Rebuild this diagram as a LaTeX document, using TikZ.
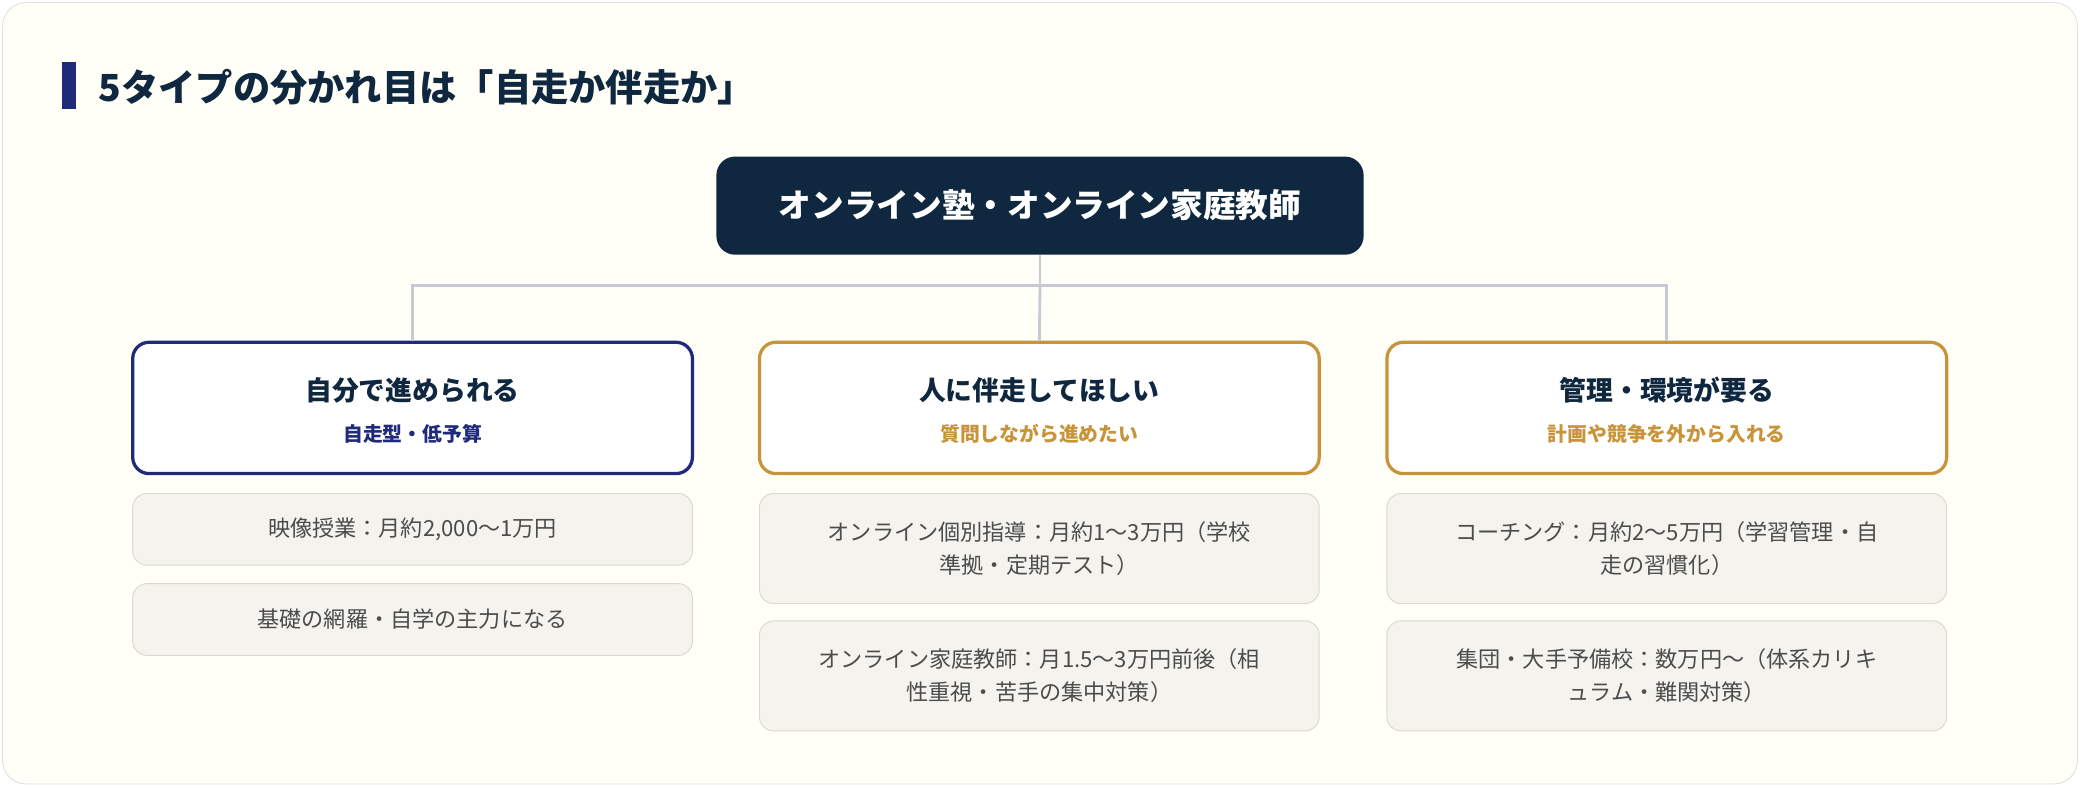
\documentclass[tikz,border=0pt]{standalone}
\usepackage{fontspec}
\setmainfont{Noto Sans CJK JP}
\newfontfamily\jpbold{Noto Sans CJK JP}[FakeBold=0,BoldFont={Noto Sans CJK JP Bold}]
\definecolor{navy}{HTML}{0F2840}
\definecolor{indigo}{HTML}{1F2A7A}
\definecolor{gold}{HTML}{C8943A}
\definecolor{itemfill}{HTML}{F4F3EE}
\definecolor{itemline}{HTML}{DCD9CC}
\definecolor{linkgray}{HTML}{C5CAD3}
\tikzset{
  rootbox/.style={fill=navy,rounded corners=8pt,text=white,font=\fontsize{14pt}{17pt}\selectfont\bfseries},
  typebox/.style={draw=#1,line width=1.4pt,fill=white,rounded corners=7pt,minimum width=8.44cm,minimum height=1.98cm},
  itembox/.style={draw=itemline,fill=itemfill,rounded corners=6pt,minimum width=8.44cm,text=black!70,align=center,font=\fontsize{9.5pt}{14pt}\selectfont},
  link/.style={draw=linkgray,line width=1.2pt}
}
\begin{document}
\begin{tikzpicture}[x=0.02cm,y=-0.02cm]
\useasboundingbox (0,0) rectangle (1568,593);
\draw [draw=black!12,fill=white!97!yellow,rounded corners=10pt] (2,2) rectangle (1566,591);

\fill [indigo] (47,47) rectangle (57,82);
\node (title) [anchor=west,text=navy,font=\fontsize{16pt}{19pt}\selectfont\bfseries] at (68,66) {5タイプの分かれ目は「自走か伴走か」};

\node (root) [rootbox,minimum width=9.76cm,minimum height=1.48cm] at (784,155) {オンライン塾・オンライン家庭教師};

\node (self) [typebox=indigo] at (311,307.5) {};
\node (pace) [typebox=gold] at (783.5,307.5) {};
\node (mgmt) [typebox=gold] at (1256.5,307.5) {};
\node [text=navy,font=\fontsize{11.5pt}{14pt}\selectfont\bfseries] at (311,294) {自分で進められる};
\node [text=indigo,font=\fontsize{8.5pt}{10pt}\selectfont\bfseries] at (311,327) {自走型・低予算};
\node [text=navy,font=\fontsize{11.5pt}{14pt}\selectfont\bfseries] at (783.5,294) {人に伴走してほしい};
\node [text=gold,font=\fontsize{8.5pt}{10pt}\selectfont\bfseries] at (783.5,327) {質問しながら進めたい};
\node [text=navy,font=\fontsize{11.5pt}{14pt}\selectfont\bfseries] at (1256.5,294) {管理・環境が要る};
\node [text=gold,font=\fontsize{8.5pt}{10pt}\selectfont\bfseries] at (1256.5,327) {計画や競争を外から入れる};

\coordinate (bend) at (784,215);
\draw [link] (root.south) -- (bend);
\draw [link] (self.north) |- (bend) -| (mgmt.north);
\draw [link] (bend) -- (pace.north);

\node (video) [itembox,minimum height=1.08cm] at (311,399) {映像授業：月約2,000〜1万円};
\node (basic) [itembox,minimum height=1.08cm] at (311,467) {基礎の網羅・自学の主力になる};
\node (indiv) [itembox,minimum height=1.66cm] at (783.5,413.5) {オンライン個別指導：月約1〜3万円（学校\\準拠・定期テスト）};
\node (tutor) [itembox,minimum height=1.66cm] at (783.5,509.5) {オンライン家庭教師：月1.5〜3万円前後（相\\性重視・苦手の集中対策）};
\node (coach) [itembox,minimum height=1.66cm] at (1256.5,413.5) {コーチング：月約2〜5万円（学習管理・自\\走の習慣化）};
\node (group) [itembox,minimum height=1.66cm] at (1256.5,509.5) {集団・大手予備校：数万円〜（体系カリキ\\ュラム・難関対策）};
\end{tikzpicture}
\end{document}
